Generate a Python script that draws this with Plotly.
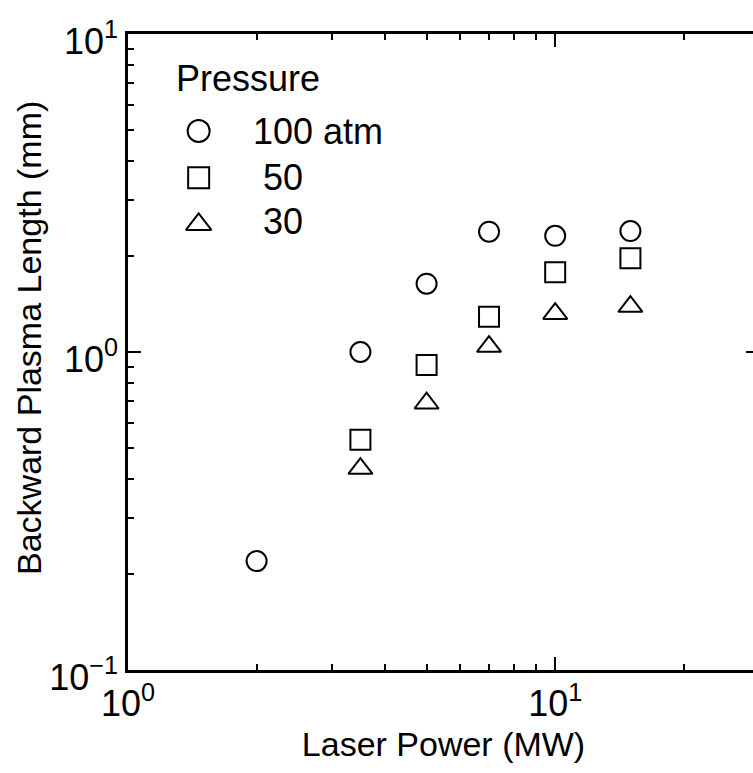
import plotly.graph_objects as go

# Data
power_100 = [2.0, 3.5, 5.0, 7.0, 10.0, 15.0]
length_100 = [0.22, 1.0, 1.64, 2.39, 2.32, 2.40]

power_50 = [3.5, 5.0, 7.0, 10.0, 15.0]
length_50 = [0.53, 0.91, 1.29, 1.78, 1.97]

power_30 = [3.5, 5.0, 7.0, 10.0, 15.0]
length_30 = [0.43, 0.69, 1.04, 1.32, 1.39]

series_names = ["100 atm", "\u00a050", "\u00a030"]
series_symbols = ["circle-open", "square-open", "triangle-up-open"]
legend_title = "Pressure"
x_title = "Laser Power (MW)"
y_title = "Backward Plasma Length (mm)"
x_tickvals = [1, 10]
x_ticktext = ["10<sup>0</sup>", "10<sup>1</sup>"]
y_tickvals = [0.1, 1, 10]
y_ticktext = ["10<sup>\u22121</sup>", "10<sup>0</sup>", "10<sup>1</sup>"]

FONT = "Arial, 'Liberation Sans', Helvetica, sans-serif"
TICK_FS = 36
LEGEND_FS = 36
TITLE_FS = 34

# plot-area geometry (pixels)
L, T, W_PLOT, H_PLOT = 128, 34, 634, 636
BOTTOM = T + H_PLOT


def px_x(px):
    return (px - L) / W_PLOT


def px_y(py):
    return (BOTTOM - py) / H_PLOT


fig = go.Figure()
data_sets = [(power_100, length_100, 20), (power_50, length_50, 20), (power_30, length_30, 21)]
for (xs, ys, size), sym, name in zip(data_sets, series_symbols, series_names):
    fig.add_trace(go.Scatter(
        x=xs, y=ys, mode="markers", name=name, showlegend=False,
        marker=dict(symbol=sym, size=size, color="black", line=dict(width=2, color="black")),
    ))

# Hand-laid legend (larger keys than plotly's legend allows)
legend_key_x = 199
legend_row_y = [131, 177.7, 221.7]
legend_key_sizes = [22, 21, 22]
legend_key_dy = [0, 0, 2.75]  # triangle glyph sits above its anchor point
for sym, name, ry, ks, dy in zip(series_symbols, series_names, legend_row_y, legend_key_sizes, legend_key_dy):
    fig.add_trace(go.Scatter(
        x=[px_x(legend_key_x)], y=[px_y(ry + dy)], mode="markers", name=name,
        xaxis="x2", yaxis="y2", showlegend=False, hoverinfo="skip",
        marker=dict(symbol=sym, size=ks, color="black", line=dict(width=2, color="black")),
    ))
    fig.add_annotation(
        text=name, xref="paper", yref="paper", x=px_x(251.5), y=px_y(ry),
        xanchor="left", yanchor="middle", showarrow=False,
        font=dict(family=FONT, size=LEGEND_FS, color="black"),
    )

fig.add_annotation(
    text=legend_title,
    xref="paper", yref="paper", x=px_x(174.5), y=px_y(78),
    xanchor="left", yanchor="middle",
    showarrow=False, font=dict(family=FONT, size=LEGEND_FS, color="black"),
)

axis_common = dict(
    type="log",
    showline=True, linecolor="black", linewidth=2.5,
    mirror="allticks",
    ticks="inside", ticklen=13, tickwidth=2, tickcolor="black",
    showgrid=False, zeroline=False,
    tickfont=dict(family=FONT, size=TICK_FS, color="black"),
    minor=dict(ticks="inside", ticklen=6, tickwidth=2, tickcolor="black",
               dtick="D1", showgrid=False),
)

fig.update_layout(
    xaxis=dict(
        **axis_common,
        range=[0, 1.4771],
        tickmode="array", tickvals=x_tickvals, ticktext=x_ticktext,
        title=dict(text=x_title, font=dict(family=FONT, size=TITLE_FS, color="black"), standoff=10),
    ),
    yaxis=dict(
        **axis_common,
        range=[-1, 1],
        tickmode="array", tickvals=y_tickvals, ticktext=y_ticktext,
        ticklabelshift=7,
    ),
    xaxis2=dict(overlaying="x", range=[0, 1], visible=False, fixedrange=True),
    yaxis2=dict(overlaying="y", range=[0, 1], visible=False, fixedrange=True),
)

fig.add_annotation(
    text=y_title, textangle=-90,
    xref="paper", yref="paper", x=0, y=px_y(338),
    xanchor="center", yanchor="middle", xshift=-99,
    showarrow=False, font=dict(family=FONT, size=TITLE_FS, color="black"),
)

fig.update_layout(
    width=762, height=773,
    margin=dict(l=L, r=0, t=T, b=773 - BOTTOM),
    paper_bgcolor="white", plot_bgcolor="white",
    font=dict(family=FONT, size=TITLE_FS, color="black"),
    showlegend=False,
)

fig.write_html("out.html")
